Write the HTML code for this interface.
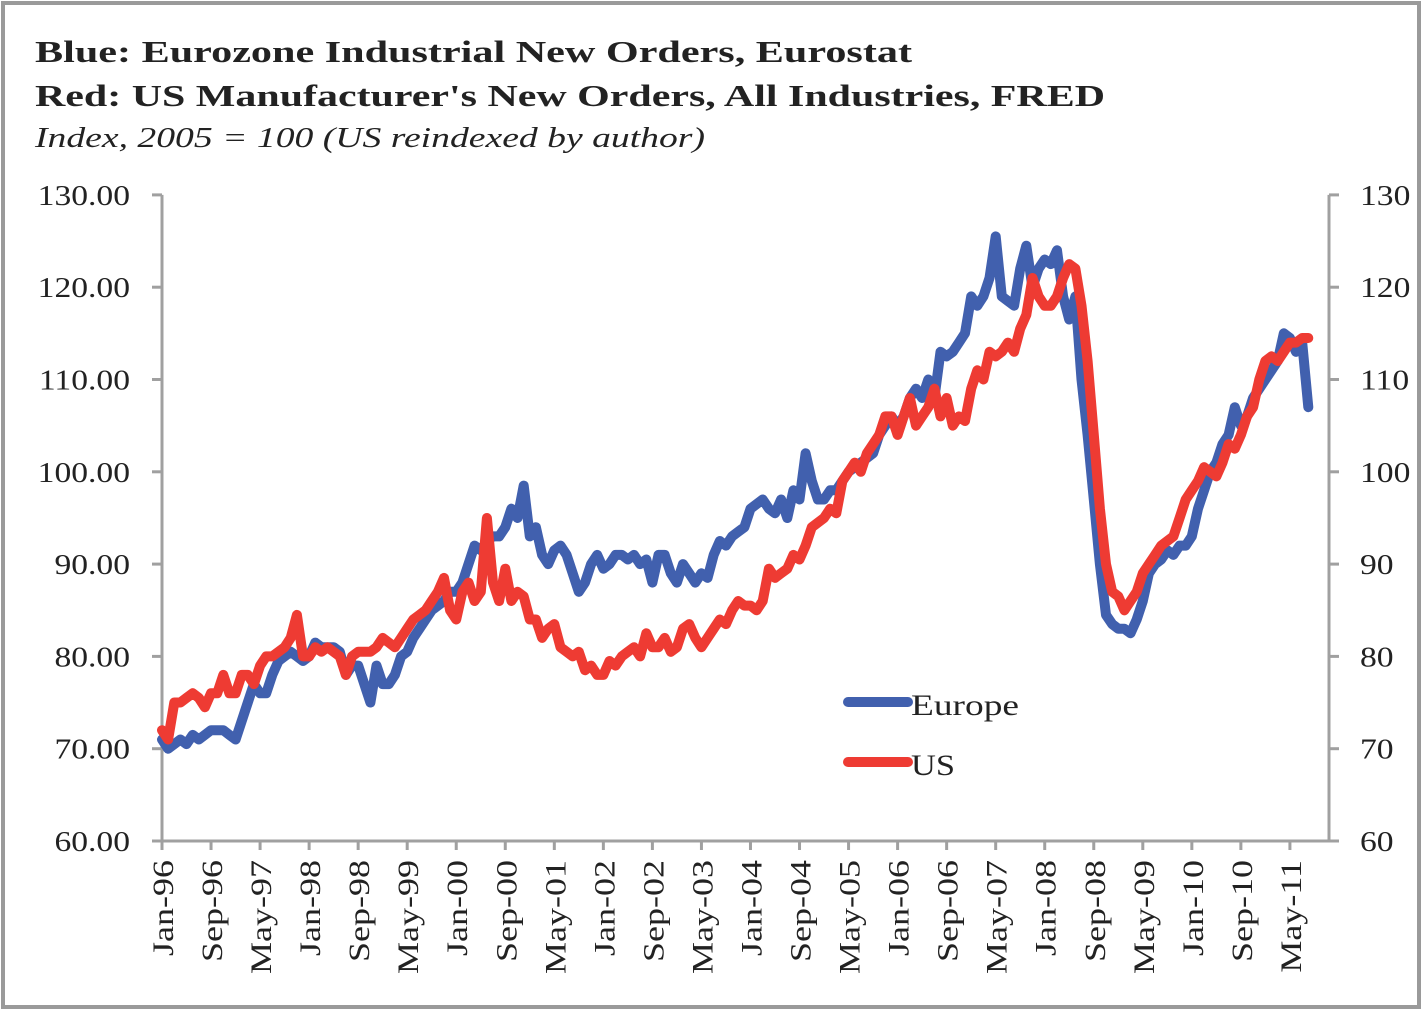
<!DOCTYPE html>
<html><head><meta charset="utf-8"><style>
html,body{margin:0;padding:0;background:#fff;}
svg{display:block;font-family:"Liberation Serif",serif;}
</style></head><body>
<svg width="1423" height="1012" viewBox="0 0 1423 1012">
<rect x="3" y="3" width="1416" height="1004" fill="#fff" stroke="#9a9a9a" stroke-width="4"/>
<text x="35" y="62" font-size="31" font-weight="bold" fill="#222" textLength="877" lengthAdjust="spacingAndGlyphs">Blue:  Eurozone Industrial New Orders, Eurostat</text>
<text x="35" y="106" font-size="31" font-weight="bold" fill="#222" textLength="1070" lengthAdjust="spacingAndGlyphs">Red:  US Manufacturer's New Orders, All Industries, FRED</text>
<text x="35" y="147" font-size="28" font-style="italic" fill="#222" textLength="670" lengthAdjust="spacingAndGlyphs">Index, 2005 = 100 (US reindexed by author)</text>
<g id="axes"></g>
<g id="series"></g>
<g>
<line x1="848" y1="702" x2="908" y2="702" stroke="#4160AE" stroke-width="10" stroke-linecap="round"/>
<text x="911" y="715" font-size="30" fill="#222" textLength="108" lengthAdjust="spacingAndGlyphs">Europe</text>
<line x1="848" y1="762" x2="908" y2="762" stroke="#EE3B33" stroke-width="10" stroke-linecap="round"/>
<text x="911" y="775" font-size="30" fill="#222" textLength="44" lengthAdjust="spacingAndGlyphs">US</text>
</g>
</svg>
<script>
const europe = [
71,70,70.5,71,70.5,71.5,71,71.5,72,72,72,71.5,
71,73,75,77,76,76,78,79.5,80,80.5,80,79.5,
80,81.5,81,81,81,80.5,78,79,79,77,75,79,
77,77,78,80,80.5,82,83,84,85,85.5,86,87,
87,88,90,92,91.5,92.5,93,93,94,96,95,98.5,
93,94,91,90,91.5,92,91,89,87,88,90,91,
89.5,90,91,91,90.5,91,90,90.5,88,91,91,89,
88,90,89,88,89,88.5,91,92.5,92,93,93.5,94,
96,96.5,97,96,95.5,97,95,98,97,102,99,97,
97,98,98,99,100,100.5,101,101.5,102,104,105,106,
105,106,108,109,108,110,108,113,112.5,113,114,115,
119,118,119,121,125.5,119,118.5,118,122,124.5,120,122,
123,122.5,124,119,116.5,119,110,104,97,90,84.5,83.5,
83,83,82.5,84,86,89,90,90.5,91.5,91,92,92,
93,96,98,100,101,103,104,107,105,106,108,109,
110,111,112,115,114.5,113,114,107];
const us = [
72,71,75,75,75.5,76,75.5,74.5,76,76,78,76,
76,78,78,77,79,80,80,80.5,81,82,84.5,80,
80,81,80.5,81,80.5,80,78,80,80.5,80.5,80.5,81,
82,81.5,81,82,83,84,84.5,85,86,87,88.5,85,
84,87,88,86,87,95,88,86,89.5,86,87,86.5,
84,84,82,83,83.5,81,80.5,80,80.5,78.5,79,78,
78,79.5,79,80,80.5,81,80,82.5,81,81,82,80.5,
81,83,83.5,82,81,82,83,84,83.5,85,86,85.5,
85.5,85,86,89.5,88.5,89,89.5,91,90.5,92,94,94.5,
95,96,95.5,99,100,101,100,102,103,104,106,106,
104,106,108,105,106,107,109,106,108,105,106,105.5,
109,111,110,113,112.5,113,114,113,115.5,117,121,119,
118,118,119,121,122.5,122,118,112,104,96,90,87,
86.5,85,86,87,89,90,91,92,92.5,93,95,97,
98,99,100.5,100,99.5,101,103,102.5,104,106,107,110,
112,112.5,112,113,114,114,114.5,114.5];
const leftTicks = ["60.00","70.00","80.00","90.00","100.00","110.00","120.00","130.00"];
const rightTicks = ["60","70","80","90","100","110","120","130"];
const monthNames = ["Jan","Feb","Mar","Apr","May","Jun","Jul","Aug","Sep","Oct","Nov","Dec"];
const NS="http://www.w3.org/2000/svg";
const X0=162, XR=1329, DX=6.13, Y60=841, PPU=9.23;
const xs = i => X0 + i*DX;
const ys = v => Y60 - (v-60)*PPU;
const axes=document.getElementById('axes'), series=document.getElementById('series');
function mk(tag, attrs, parent){const e=document.createElementNS(NS,tag);for(const k in attrs)e.setAttribute(k,attrs[k]);parent.appendChild(e);return e;}
const G="#a0a0a0";
let e;
e=mk('line',{x1:X0,y1:ys(130),x2:X0,y2:Y60,stroke:G,'stroke-width':3},axes);


e=mk('line',{x1:XR,y1:ys(130),x2:XR,y2:Y60,stroke:G,'stroke-width':3},axes);


e=mk('line',{x1:X0,y1:Y60,x2:XR,y2:Y60,stroke:G,'stroke-width':3},axes);


leftTicks.forEach((t,k)=>{const v=60+k*10;
 e=mk('line',{x1:X0-10,y1:ys(v),x2:X0,y2:ys(v),stroke:G,'stroke-width':3},axes);
 
 
 e=mk('text',{x:0,y:0,'font-size':28,fill:'#222','text-anchor':'end',transform:`translate(130,${ys(v)+10}) scale(1.2,1)`},axes);e.textContent=t;
 
 
});
rightTicks.forEach((t,k)=>{const v=60+k*10;
 e=mk('line',{x1:XR,y1:ys(v),x2:XR+10,y2:ys(v),stroke:G,'stroke-width':3},axes);
 
 
 e=mk('text',{x:0,y:0,'font-size':28,fill:'#222',transform:`translate(1360,${ys(v)+10}) scale(1.2,1)`},axes);e.textContent=t;
 
 
});
for(let i=0;i<=184;i+=8){
 const x=xs(i);
 e=mk('line',{x1:x,y1:Y60,x2:x,y2:Y60+9,stroke:G,'stroke-width':3},axes);
 
 
 const lab=monthNames[i%12]+'-'+String((96+Math.floor(i/12))%100).padStart(2,'0');
 e=mk('text',{x:0,y:0,'font-size':30,fill:'#222','text-anchor':'end',transform:`translate(${x+11},860) rotate(-90) scale(1.2,1)`},axes);e.textContent=lab;
 
 
}
function line(arr,color,name){
 const d=arr.map((v,i)=>(i?'L':'M')+xs(i).toFixed(1)+','+ys(v).toFixed(1)).join(' ');
 const p=mk('path',{d:d,fill:'none',stroke:color,'stroke-width':10,'stroke-linejoin':'round','stroke-linecap':'round'},series);
 
 
}
line(europe,'#4160AE','europe-line');
line(us,'#EE3B33','us-line');
</script>
</body></html>
